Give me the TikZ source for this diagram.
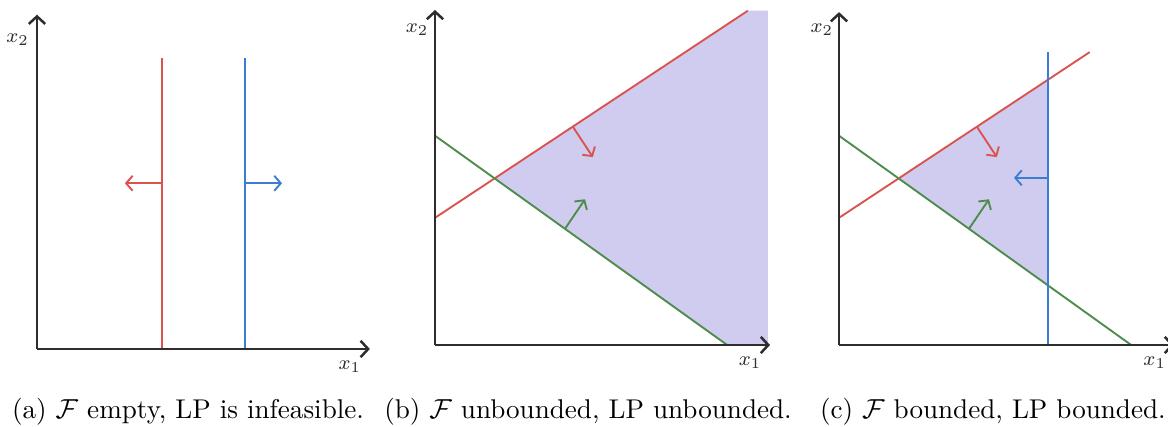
\documentclass[tikz,border=0pt]{standalone}
\usetikzlibrary{arrows.meta}
\definecolor{lpred}{RGB}{217,83,79}
\definecolor{lpblue}{RGB}{58,125,210}
\definecolor{lpgreen}{RGB}{76,140,76}
\definecolor{lpfill}{RGB}{208,204,240}
\definecolor{axisgray}{RGB}{45,45,45}

\begin{document}
\begin{tikzpicture}[line join=round,x=1cm,y=1cm,
  axis/.style={axisgray,line width=1pt,-{Straight Barb[length=3pt,width=6.5pt]}},
  bound/.style={line width=0.75pt},
  normal/.style={line width=0.75pt,-{Straight Barb[length=2.6pt,width=6pt]}},
  axlabel/.style={font=\footnotesize,text=axisgray},
  caption/.style={font=\fontsize{10.8}{13.4}\selectfont}]
\useasboundingbox (0,0) rectangle (16.352,5.978);
% (a) empty feasible set
\begin{scope}[shift={(0.518,1.092)}]
\coordinate (a-o) at (0,0);
\coordinate (a-xend) at (4.66,0);
\coordinate (a-yend) at (0,4.68);
\coordinate (a-r0) at (1.75,0);
\coordinate (a-r1) at (1.75,4.07);
\coordinate (a-rm) at (1.75,2.32);
\coordinate (a-rn) at (1.23,2.32);
\coordinate (a-b0) at (2.91,0);
\coordinate (a-b1) at (2.91,4.07);
\coordinate (a-bm) at (2.91,2.32);
\coordinate (a-bn) at (3.43,2.32);
\draw[bound,lpred] (a-r0) -- (a-r1);
\draw[normal,lpred] (a-rm) -- (a-rn);
\draw[bound,lpblue] (a-b0) -- (a-b1);
\draw[normal,lpblue] (a-bm) -- (a-bn);
\draw[axis] (a-o) -- (a-xend);
\draw[axis] (a-o) -- (a-yend);
\node[axlabel] (a-x1) at (4.38,-0.25) {$x_1$};
\node[axlabel] (a-x2) at (-0.27,4.33) {$x_2$};
\end{scope}
% (b) unbounded feasible set
\begin{scope}[shift={(6.09,1.148)}]
\coordinate (b-o) at (0,0);
\coordinate (b-xend) at (4.69,0);
\coordinate (b-yend) at (0,4.69);
\coordinate (b-r0) at (0,1.78);
\coordinate (b-r1) at (4.38,4.68);
\coordinate (b-g0) at (0,2.93);
\coordinate (b-g1) at (4.09,0);
\coordinate (b-v) at (0.835,2.33);
\coordinate (b-rm) at (1.93,3.056);
\coordinate (b-rn) at (2.21,2.63);
\coordinate (b-gm) at (1.82,1.627);
\coordinate (b-gn) at (2.10,2.04);
\fill[lpfill] (b-v) -- (b-r1) -- (4.66,4.68) -- (4.66,0) -- (b-g1) -- cycle;
\draw[bound,lpred] (b-r0) -- (b-r1);
\draw[normal,lpred] (b-rm) -- (b-rn);
\draw[bound,lpgreen] (b-g0) -- (b-g1);
\draw[normal,lpgreen] (b-gm) -- (b-gn);
\draw[axis] (b-o) -- (b-xend);
\draw[axis] (b-o) -- (b-yend);
\node[axlabel] (b-x1) at (4.41,-0.25) {$x_1$};
\node[axlabel] (b-x2) at (-0.25,4.41) {$x_2$};
\end{scope}
% (c) bounded feasible set
\begin{scope}[shift={(11.746,1.148)}]
\coordinate (c-o) at (0,0);
\coordinate (c-xend) at (4.69,0);
\coordinate (c-yend) at (0,4.66);
\coordinate (c-r0) at (0,1.78);
\coordinate (c-r1) at (3.51,4.10);
\coordinate (c-g0) at (0,2.93);
\coordinate (c-g1) at (4.09,0);
\coordinate (c-b0) at (2.93,0);
\coordinate (c-b1) at (2.93,4.10);
\coordinate (c-v) at (0.835,2.33);
\coordinate (c-vr) at (2.93,3.717);
\coordinate (c-vg) at (2.93,0.832);
\coordinate (c-rm) at (1.93,3.056);
\coordinate (c-rn) at (2.21,2.63);
\coordinate (c-gm) at (1.82,1.627);
\coordinate (c-gn) at (2.10,2.04);
\coordinate (c-bm) at (2.93,2.34);
\coordinate (c-bn) at (2.45,2.34);
\fill[lpfill] (c-v) -- (c-vr) -- (c-vg) -- cycle;
\draw[bound,lpred] (c-r0) -- (c-r1);
\draw[normal,lpred] (c-rm) -- (c-rn);
\draw[bound,lpgreen] (c-g0) -- (c-g1);
\draw[normal,lpgreen] (c-gm) -- (c-gn);
\draw[bound,lpblue] (c-b0) -- (c-b1);
\draw[normal,lpblue] (c-bm) -- (c-bn);
\draw[axis] (c-o) -- (c-xend);
\draw[axis] (c-o) -- (c-yend);
\node[axlabel] (c-x1) at (4.42,-0.25) {$x_1$};
\node[axlabel] (c-x2) at (-0.24,4.41) {$x_2$};
\end{scope}
\node[caption] (capa) at (2.632,0.21) {(a) $\mathcal{F}$ empty, LP is infeasible.};
\node[caption] (capb) at (8.232,0.21) {(b) $\mathcal{F}$ unbounded, LP unbounded.};
\node[caption] (capc) at (13.90,0.21) {(c) $\mathcal{F}$ bounded, LP bounded.};
\end{tikzpicture}
\end{document}
